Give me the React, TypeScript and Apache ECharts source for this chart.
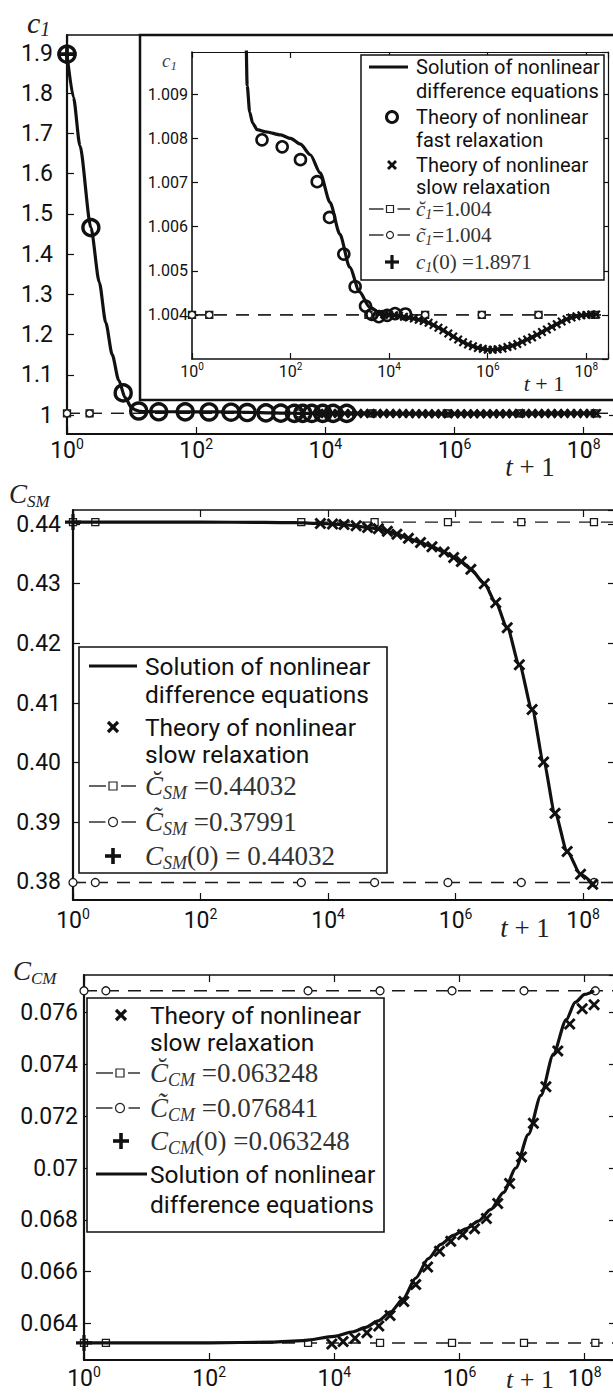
import React, { useEffect, useRef } from 'react';
import * as echarts from 'echarts';

// ---------------- data (x values are log10(t+1)) ----------------
const decadeLabels = [0, 2, 4, 6, 8];
const markX = [0, 0.35, 3.58, 4.73, 5.88, 7.03, 8.17];
const lineEndX = 8.5;

// panel 1 : c1
const c1Breve = 1.004;
const c1Tilde = 1.004;
const c1Init = 1.8971;
const c1SolX = [0, 0.1, 0.2, 0.37, 0.5, 0.6, 0.7, 0.8, 0.9, 1.0, 1.07, 1.12, 1.17, 1.23, 1.32, 1.5, 1.8, 2.0, 2.2, 2.4, 2.6, 2.8, 3.0, 3.2, 3.4, 3.6, 3.8, 4.0, 4.2, 4.4, 4.6, 4.8, 5.0, 5.2, 5.4, 5.6, 5.8, 6.0, 6.2, 6.4, 6.6, 6.8, 7.0, 7.2, 7.4, 7.6, 7.8, 8.0, 8.2];
const c1SolY = [1.8971, 1.79, 1.67, 1.466, 1.33, 1.23, 1.15, 1.087, 1.043, 1.018, 1.012, 1.0092, 1.0086, 1.00835, 1.0082, 1.00815, 1.00808, 1.008, 1.00787, 1.00763, 1.00722, 1.00655, 1.00583, 1.00508, 1.00452, 1.00418, 1.00405, 1.004, 1.00398, 1.00394, 1.00389, 1.00382, 1.00371, 1.00358, 1.00344, 1.00333, 1.00325, 1.00321, 1.00322, 1.00327, 1.00334, 1.00344, 1.00355, 1.00367, 1.00379, 1.0039, 1.00397, 1.004, 1.00401];
const c1FastX = [0, 0.37, 0.87, 1.11, 1.42, 1.83, 2.2, 2.54, 2.79, 3.08, 3.31, 3.52, 3.65, 3.79, 3.96, 4.12, 4.33];
const c1FastY = [1.8971, 1.466, 1.055, 1.01, 1.00797, 1.00781, 1.00752, 1.00702, 1.00621, 1.00538, 1.00464, 1.0042, 1.00401, 1.00396, 1.00399, 1.00403, 1.00402];
const c1SlowX = [3.8, 3.9, 4.0, 4.1, 4.2, 4.3, 4.4, 4.5, 4.6, 4.7, 4.8, 4.9, 5.0, 5.1, 5.2, 5.3, 5.4, 5.5, 5.6, 5.7, 5.8, 5.9, 6.0, 6.1, 6.2, 6.3, 6.4, 6.5, 6.6, 6.7, 6.8, 6.9, 7.0, 7.1, 7.2, 7.3, 7.4, 7.5, 7.6, 7.7, 7.8, 7.9, 8.0, 8.1, 8.2];
const c1SlowY = [1.00402, 1.00401, 1.004, 1.00399, 1.00398, 1.00396, 1.00394, 1.00392, 1.00389, 1.00386, 1.00382, 1.00377, 1.00371, 1.00365, 1.00358, 1.00351, 1.00344, 1.00338, 1.00333, 1.00329, 1.00325, 1.00323, 1.00321, 1.00321, 1.00322, 1.00324, 1.00327, 1.0033, 1.00334, 1.00339, 1.00344, 1.00349, 1.00355, 1.00361, 1.00367, 1.00373, 1.00379, 1.00385, 1.0039, 1.00394, 1.00397, 1.00399, 1.004, 1.00401, 1.00401];

// panel 2 : C_SM
const smBreve = 0.44032;
const smTilde = 0.37991;
const smInit = 0.44032;
const smSolX = [0, 1, 2, 3, 3.5, 3.88, 4.07, 4.25, 4.44, 4.62, 4.79, 4.93, 5.08, 5.26, 5.45, 5.63, 5.82, 5.97, 6.09, 6.24, 6.45, 6.63, 6.81, 7.0, 7.2, 7.38, 7.56, 7.75, 7.96, 8.15];
const smSolY = [0.44032, 0.44032, 0.44031, 0.44028, 0.44022, 0.4401, 0.44, 0.4399, 0.4397, 0.4394, 0.4392, 0.4388, 0.4383, 0.4376, 0.4369, 0.4362, 0.4353, 0.4344, 0.4337, 0.4324, 0.43, 0.4268, 0.4226, 0.4164, 0.4089, 0.4001, 0.3915, 0.3851, 0.3813, 0.3797];
const smSlowX = [3.88, 4.07, 4.25, 4.44, 4.62, 4.79, 4.93, 5.08, 5.26, 5.45, 5.63, 5.82, 5.97, 6.09, 6.24, 6.45, 6.63, 6.81, 7.0, 7.2, 7.38, 7.56, 7.75, 7.96, 8.15];
const smSlowY = [0.4401, 0.44, 0.4399, 0.4397, 0.4394, 0.4392, 0.4388, 0.4383, 0.4376, 0.4369, 0.4362, 0.4353, 0.4344, 0.4337, 0.4324, 0.43, 0.4268, 0.4226, 0.4164, 0.4089, 0.4001, 0.3915, 0.3851, 0.3813, 0.3796];

// panel 3 : C_CM
const cmBreve = 0.063248;
const cmTilde = 0.076841;
const cmInit = 0.063248;
const cmSolX = [0, 2, 3, 3.5, 4.0, 4.3, 4.5, 4.7, 4.9, 5.1, 5.3, 5.5, 5.7, 5.9, 6.1, 6.3, 6.5, 6.7, 6.9, 7.1, 7.3, 7.5, 7.7, 7.85, 8.0, 8.15];
const cmSolY = [0.063248, 0.06325, 0.06328, 0.06334, 0.0635, 0.06368, 0.06385, 0.0641, 0.06445, 0.06495, 0.06575, 0.0665, 0.06705, 0.0674, 0.06765, 0.06795, 0.0684, 0.06905, 0.07, 0.0713, 0.0728, 0.0744, 0.0757, 0.0764, 0.0767, 0.07684];
const cmSlowX = [3.96, 4.14, 4.33, 4.52, 4.71, 4.89, 5.11, 5.3, 5.49, 5.68, 5.86, 6.05, 6.24, 6.43, 6.61, 6.8, 6.99, 7.18, 7.38, 7.57, 7.76, 7.96, 8.15];
const cmSlowY = [0.06321, 0.0633, 0.06343, 0.06364, 0.0639, 0.06431, 0.06485, 0.0655, 0.06618, 0.06679, 0.06717, 0.06743, 0.06766, 0.06805, 0.06863, 0.0694, 0.07043, 0.07173, 0.07314, 0.07452, 0.07556, 0.07615, 0.0763];

// ---------------- styling ----------------
const INK = '#111';
const MATH = '#333';
const SANS = 'Roboto, "Open Sans", sans-serif';
const SERIF = '"Liberation Serif", "DejaVu Serif", serif';
const X_SYMBOL = 'path://M1.7,0 L5,3.3 L8.3,0 L10,1.7 L6.7,5 L10,8.3 L8.3,10 L5,6.7 L1.7,10 L0,8.3 L3.3,5 L0,1.7 Z';
const PLUS_SYMBOL = 'path://M4,0 L6,0 L6,4 L10,4 L10,6 L6,6 L6,10 L4,10 L4,6 L0,6 L0,4 L4,4 Z';

const zip = (xs: number[], ys: number[]) => xs.map((x, i) => [x, ys[i]]);
const near = (v: number, step: number) => Math.abs(v / step - Math.round(v / step)) < 1e-6;

type Ax = { z: number; fs: number; sfs: number; margin: number; lw: number; tick: number };

function makeX(g: number, max: number, o: Ax) {
  const common: any = { type: 'value', gridIndex: g, min: 0, max, interval: 2, splitLine: { show: false }, z: o.z };
  const tick = { show: true, inside: true, length: o.tick, lineStyle: { color: INK, width: 1.2 } };
  return [
    {
      ...common, position: 'bottom',
      axisLine: { show: true, onZero: false, lineStyle: { color: INK, width: o.lw } },
      axisTick: tick,
      axisLabel: {
        show: true, margin: o.margin,
        formatter: (v: number) => (near(v, 2) && v < 8.01 ? `{b|10}{s|${Math.round(v)}}` : ''),
        rich: {
          b: { fontSize: o.fs, fontFamily: SANS, color: INK, lineHeight: o.fs + 4 },
          s: { fontSize: o.sfs, fontFamily: SANS, color: INK, verticalAlign: 'top', lineHeight: o.sfs },
        },
      },
    },
    {
      ...common, position: 'top',
      axisLine: { show: true, onZero: false, lineStyle: { color: INK, width: o.lw * 0.75 } },
      axisTick: tick, axisLabel: { show: false },
    },
  ];
}

function makeY(g: number, min: number, max: number, step: number, useInterval: boolean, split: number, fmt: (v: number) => string, o: Ax) {
  const common: any = { type: 'value', gridIndex: g, min, max, splitLine: { show: false }, z: o.z };
  if (useInterval) common.interval = step; else common.splitNumber = split;
  const tick = { show: true, inside: true, length: o.tick, lineStyle: { color: INK, width: 1.2 } };
  return [
    {
      ...common, position: 'left',
      axisLine: { show: true, onZero: false, lineStyle: { color: INK, width: o.lw } },
      axisTick: tick,
      axisLabel: {
        show: true, margin: o.margin, color: INK, fontSize: o.fs, fontFamily: SANS,
        showMinLabel: false, showMaxLabel: false,
        formatter: (v: number) => (near(v, step) ? fmt(v) : ''),
      },
    },
    {
      ...common, position: 'right',
      axisLine: { show: true, onZero: false, lineStyle: { color: INK, width: o.lw * 0.75 } },
      axisTick: tick, axisLabel: { show: false },
    },
  ];
}

function dashed(g: number, value: number, kind: 'rect' | 'circle', size: number, z: number) {
  const data: any[] = markX.map((x) => [x, value]);
  data.push({ value: [lineEndX, value], symbol: 'none' });
  return {
    type: 'line', xAxisIndex: 2 * g, yAxisIndex: 2 * g, data, symbol: kind, symbolSize: size,
    showAllSymbol: true, silent: true, z,
    itemStyle: { color: '#fff', borderColor: '#1a1a1a', borderWidth: 1.3, opacity: 1 },
    lineStyle: { color: '#1a1a1a', width: 1.4, type: [13, 9] },
  };
}
function solid(g: number, xs: number[], ys: number[], z: number, w = 3.2) {
  return {
    type: 'line', xAxisIndex: 2 * g, yAxisIndex: 2 * g, data: zip(xs, ys), symbol: 'none',
    smooth: 0.25, smoothMonotone: 'x', silent: true, z, lineStyle: { color: INK, width: w },
  };
}
function circles(g: number, xs: number[], ys: number[], size: number, bw: number, z: number) {
  return {
    type: 'scatter', xAxisIndex: 2 * g, yAxisIndex: 2 * g, data: zip(xs, ys), symbol: 'circle', symbolSize: size,
    silent: true, z, itemStyle: { color: 'rgba(0,0,0,0)', borderColor: INK, borderWidth: bw, opacity: 1 },
  };
}
function crosses(g: number, xs: number[], ys: number[], size: number, z: number) {
  return {
    type: 'scatter', xAxisIndex: 2 * g, yAxisIndex: 2 * g, data: zip(xs, ys), symbol: X_SYMBOL, symbolSize: size,
    silent: true, z, itemStyle: { color: INK, opacity: 1 },
  };
}
function plus(g: number, x: number, y: number, size: number, z: number) {
  return {
    type: 'scatter', xAxisIndex: 2 * g, yAxisIndex: 2 * g, data: [[x, y]], symbol: PLUS_SYMBOL, symbolSize: size,
    silent: true, z, itemStyle: { color: INK, opacity: 1 },
  };
}

// ---------------- graphic helpers (legends, axis names) ----------------
const ZL = 60;
const gLine = (x1: number, y1: number, x2: number, y2: number, w: number) =>
  ({ type: 'line', shape: { x1, y1, x2, y2 }, style: { stroke: INK, lineWidth: w }, z: ZL + 1, silent: true });
const gCircle = (cx: number, cy: number, r: number, w: number) =>
  ({ type: 'circle', shape: { cx, cy, r }, style: { fill: '#fff', stroke: INK, lineWidth: w }, z: ZL + 2, silent: true });
const gSquare = (cx: number, cy: number, s: number) =>
  ({ type: 'rect', shape: { x: cx - s / 2, y: cy - s / 2, width: s, height: s }, style: { fill: '#fff', stroke: '#222', lineWidth: 1.2 }, z: ZL + 2, silent: true });
const gCross = (cx: number, cy: number, a: number, w: number) => [gLine(cx - a, cy - a, cx + a, cy + a, w), gLine(cx - a, cy + a, cx + a, cy - a, w)];
const gPlus = (cx: number, cy: number, a: number, w: number) => [gLine(cx - a, cy, cx + a, cy, w), gLine(cx, cy - a, cx, cy + a, w)];
const gDashSym = (x1: number, x2: number, cx: number, y: number, kind: 'rect' | 'circle', s: number) => [
  { ...gLine(x1, y, cx - s / 2 - 3, y, 1.3) },
  { ...gLine(cx + s / 2 + 4, y, x2, y, 1.3) },
  kind === 'rect' ? gSquare(cx, y, s) : { ...gCircle(cx, y, s / 2, 1.2), style: { fill: '#fff', stroke: '#222', lineWidth: 1.2 } },
];
const gText = (x: number, y: number, text: string, size: number) =>
  ({ type: 'text', x, y, silent: true, z: ZL + 3, style: { text, fontSize: size, fontFamily: SANS, fill: INK, align: 'left', verticalAlign: 'middle' } });
const gMath = (x: number, y: number, base: string, sub: string, rest: string, size: number, subSize: number, color = MATH, align = 'left') =>
  ({
    type: 'text', x, y, silent: true, z: ZL + 3,
    style: {
      text: `{c|${base}}{s|${sub}}{r|${rest}}`, align, verticalAlign: 'middle',
      rich: {
        c: { fontSize: size, fontFamily: SERIF, fontStyle: 'italic', fill: color, color, lineHeight: size + 4 },
        s: { fontSize: subSize, fontFamily: SERIF, fontStyle: 'italic', fill: color, color, verticalAlign: 'bottom', lineHeight: subSize + 2 },
        r: { fontSize: size, fontFamily: SERIF, fill: color, color, lineHeight: size + 4 },
      },
    },
  });
const gBox = (x: number, y: number, w: number, h: number, lw = 1.5) =>
  ({ type: 'rect', shape: { x, y, width: w, height: h }, style: { fill: '#fff', stroke: INK, lineWidth: lw }, z: ZL, silent: true });
const gTPlus1 = (x: number, y: number, size: number) =>
  ({
    type: 'text', x, y, silent: true, z: ZL + 3,
    style: {
      text: '{i|t}{r| + 1}', align: 'center', verticalAlign: 'middle',
      rich: {
        i: { fontSize: size, fontFamily: SERIF, fontStyle: 'italic', fill: '#222', color: '#222' },
        r: { fontSize: size, fontFamily: SERIF, fill: '#222', color: '#222' },
      },
    },
  });

function buildOption() {
  const B = '\u0306';
  const T = '\u0303';
  const mainAx: Ax = { z: 0, fs: 23, sfs: 14, margin: 3, lw: 2.2, tick: 7 };
  const insetAx: Ax = { z: 10, fs: 16, sfs: 10, margin: 2, lw: 1.6, tick: 6 };

  const xAxis = [
    ...makeX(0, 8.5, mainAx),
    ...makeX(1, 8.44, insetAx),
    ...makeX(2, 8.5, { ...mainAx, margin: 7 }),
    ...makeX(3, 8.5, { ...mainAx, margin: 5 }),
  ];
  const yAxis = [
    ...makeY(0, 0.9528, 1.9448, 0.1, false, 10, (v) => (Math.abs(v - 1) < 1e-9 ? '1' : v.toFixed(1)), { ...mainAx, margin: 14 }),
    ...makeY(1, 1.003, 1.00996, 0.001, true, 7, (v) => v.toFixed(3), { ...insetAx, margin: 4 }),
    ...makeY(2, 0.37698, 0.44235, 0.01, false, 6, (v) => v.toFixed(2), { ...mainAx, margin: 12 }),
    ...makeY(3, 0.06259, 0.07745, 0.002, false, 7, (v) => String(parseFloat(v.toFixed(3))), { ...mainAx, margin: 6 }),
  ];

  const series = [
    // main c1
    dashed(0, c1Breve, 'rect', 7, 2),
    dashed(0, c1Tilde, 'circle', 7, 2),
    solid(0, c1SolX, c1SolY, 3),
    crosses(0, c1SlowX, c1SlowY, 10, 4),
    circles(0, c1FastX, c1FastY, 16, 3.4, 5),
    plus(0, 0, c1Init, 19, 6),
    // inset c1
    dashed(1, c1Breve, 'rect', 7, 11),
    dashed(1, c1Tilde, 'circle', 7, 11),
    solid(1, c1SolX, c1SolY, 12),
    crosses(1, c1SlowX, c1SlowY, 9, 13),
    circles(1, c1FastX, c1FastY, 11, 2.6, 14),
    // C_SM
    dashed(2, smBreve, 'rect', 7, 2),
    dashed(2, smTilde, 'circle', 8, 2),
    solid(2, smSolX, smSolY, 3),
    crosses(2, smSlowX, smSlowY, 12, 4),
    plus(2, 0, smInit, 16, 5),
    // C_CM
    dashed(3, cmBreve, 'rect', 7, 2),
    dashed(3, cmTilde, 'circle', 8, 2),
    solid(3, cmSolX, cmSolY, 3),
    crosses(3, cmSlowX, cmSlowY, 12, 4),
    plus(3, 0, cmInit, 16, 5),
  ];

  const elements: any[] = [
    // inset frame
    { type: 'rect', shape: { x: 140, y: 35, width: 500, height: 365 }, style: { fill: '#fff', stroke: INK, lineWidth: 2.5 }, z: 7, silent: true },

    // axis names
    gMath(27, 22, 'c', '1', '', 30, 20, '#222'),
    gMath(162, 60, 'c', '1', '', 19, 13, '#444'),
    gMath(9, 494, 'C', 'SM', '', 27, 17, '#222'),
    gMath(13, 971, 'C', 'CM', '', 27, 17, '#222'),
    gTPlus1(530, 467, 27),
    gTPlus1(544, 383, 22),
    gTPlus1(525, 928, 27),
    gTPlus1(530, 1379, 26),

    // inset legend
    gBox(361, 55, 243, 225, 1.5),
    gLine(369, 67, 408, 67, 3),
    gText(416, 67, 'Solution of nonlinear', 20),
    gText(416, 91, 'difference equations', 20),
    gCircle(392, 117, 5.5, 3),
    gText(416, 117, 'Theory of nonlinear', 20),
    gText(416, 140, 'fast relaxation', 20),
    ...gCross(392, 165, 4, 2.8),
    gText(416, 165, 'Theory of nonlinear', 20),
    gText(416, 187, 'slow relaxation', 20),
    ...gDashSym(369, 410, 390, 209, 'rect', 7),
    gMath(416, 209, 'c' + B, '1', '=1.004', 21, 14),
    ...gDashSym(369, 410, 390, 235, 'circle', 7),
    gMath(416, 235, 'c' + T, '1', '=1.004', 21, 14),
    ...gPlus(392, 262, 7, 3.2),
    gMath(416, 262, 'c', '1', '(0) =1.8971', 21, 14),

    // middle legend
    gBox(79, 647, 308, 226, 1.6),
    gLine(89, 666, 137, 666, 3),
    gText(145, 666, 'Solution of nonlinear', 24.5),
    gText(145, 694, 'difference equations', 24.5),
    ...gCross(113, 727, 5, 3.2),
    gText(145, 727, 'Theory of nonlinear', 24.5),
    gText(145, 754, 'slow relaxation', 24.5),
    ...gDashSym(89, 136, 113, 786, 'rect', 8),
    gMath(145, 786, 'C' + B, 'SM', ' =0.44032', 27, 18),
    ...gDashSym(89, 136, 113, 822, 'circle', 9),
    gMath(145, 822, 'C' + T, 'SM', ' =0.37991', 27, 18),
    ...gPlus(113, 856, 8, 3.6),
    gMath(145, 856, 'C', 'SM', '(0) = 0.44032', 27, 18),

    // bottom legend
    gBox(87, 998, 297, 234, 1.6),
    ...gCross(121, 1015, 5, 3.2),
    gText(150, 1015, 'Theory of nonlinear', 24.5),
    gText(150, 1042, 'slow relaxation', 24.5),
    ...gDashSym(96, 140, 120, 1073, 'rect', 8),
    gMath(150, 1073, 'C' + B, 'CM', ' =0.063248', 27, 18),
    ...gDashSym(96, 140, 120, 1108, 'circle', 9),
    gMath(150, 1108, 'C' + T, 'CM', ' =0.076841', 27, 18),
    ...gPlus(121, 1141, 8, 3.6),
    gMath(150, 1141, 'C', 'CM', '(0) =0.063248', 27, 18),
    gLine(96, 1174, 147, 1174, 3),
    gText(150, 1174, 'Solution of nonlinear', 24.5),
    gText(150, 1204, 'difference equations', 24.5),
  ];

  return {
    animation: false,
    backgroundColor: '#fff',
    textStyle: { fontFamily: SANS },
    grid: [
      { left: 67, top: 35, width: 549, height: 399 },
      { left: 192, top: 52, width: 416, height: 307, z: 10 },
      { left: 73, top: 510, width: 542, height: 390 },
      { left: 84, top: 975, width: 532, height: 385 },
    ],
    xAxis,
    yAxis,
    series,
    graphic: { elements },
  };
}

export default function App() {
  const ref = useRef<HTMLDivElement>(null);
  useEffect(() => {
    if (!ref.current) return;
    const chart = echarts.init(ref.current, null, { renderer: 'svg' });
    chart.setOption(buildOption() as any);
    return () => chart.dispose();
  }, []);
  return (
    <div style={{ position: 'absolute', left: 0, top: 0, width: 613, height: 1395, overflow: 'hidden', background: '#fff' }}>
      <div ref={ref} style={{ width: 630, height: 1395 }} />
    </div>
  );
}
